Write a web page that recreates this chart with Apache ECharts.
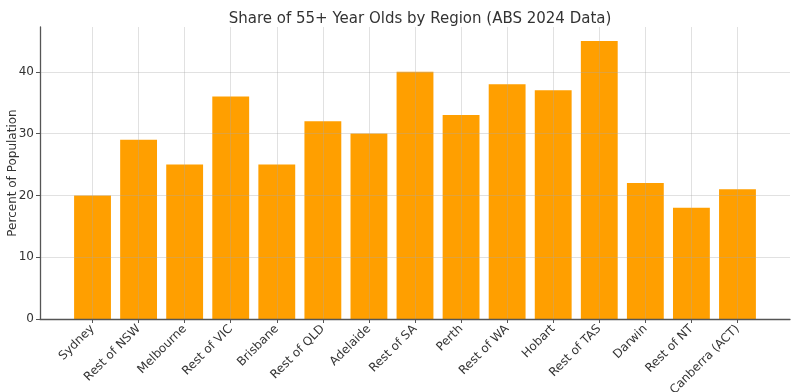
<!DOCTYPE html>
<html>
<head>
<meta charset="utf-8">
<script src="https://cdn.jsdelivr.net/npm/echarts@6/dist/echarts.min.js"></script>
<style>html,body{margin:0;padding:0;background:#fff}#c{width:800px;height:392px}</style>
</head>
<body>
<div id="c"></div>
<script>
const categories = ["Sydney","Rest of NSW","Melbourne","Rest of VIC","Brisbane","Rest of QLD","Adelaide","Rest of SA","Perth","Rest of WA","Hobart","Rest of TAS","Darwin","Rest of NT","Canberra (ACT)"];
const shares = [20,29,25,36,25,32,30,40,33,38,37,45,22,18,21];
const yTicks = [0,10,20,30,40];
const titleText = "Share of 55+ Year Olds by Region (ABS 2024 Data)";
const yName = "Percent of Population";

const idx = categories.map((_, i) => i);
const font = "DejaVu Sans";
const chart = echarts.init(document.getElementById('c'), null, {renderer: 'canvas'});
chart.setOption({
  animation: false,
  textStyle: {fontFamily: font},
  title: {
    text: titleText, left: 415, top: 7, textAlign: 'center',
    textStyle: {fontFamily: font, fontSize: 15, fontWeight: 'normal', color: '#333'}
  },
  grid: {left: 40, right: 10, top: 27, bottom: 73, containLabel: false, outerBoundsMode: 'none'},
  xAxis: {
    type: 'value', min: -1.14, max: 15.14,
    axisLine: {show: true, onZero: false, lineStyle: {color: '#555', width: 1.3}},
    axisTick: {show: true, customValues: idx, length: 4, inside: false, lineStyle: {color: '#555', width: 1}},
    axisLabel: {
      customValues: idx, rotate: 45, margin: 8,
      formatter: v => categories[Math.round(v)] || '',
      fontFamily: font, fontSize: 12, color: '#333'
    },
    splitLine: {show: true, lineStyle: {color: 'rgba(170,170,170,0.35)', width: 1}},
    z: 3
  },
  yAxis: {
    type: 'value', min: 0, max: 47.25,
    name: yName, nameLocation: 'middle', nameGap: 21, nameMoveOverlap: false,
    nameTextStyle: {fontFamily: font, fontSize: 12, color: '#333'},
    axisLine: {show: true, onZero: false, lineStyle: {color: '#555', width: 1.3}},
    axisTick: {show: true, customValues: yTicks, length: 4, inside: false, lineStyle: {color: '#555', width: 1}},
    axisLabel: {customValues: yTicks, margin: 6, fontFamily: font, fontSize: 12, color: '#333'},
    splitLine: {show: true, lineStyle: {color: 'rgba(170,170,170,0.35)', width: 1}},
    z: 3
  },
  series: [{
    type: 'bar',
    data: shares.map((v, i) => [i, v]),
    barWidth: '80%',
    itemStyle: {color: '#FF9F00'},
    z: 2
  }]
});
</script>
</body>
</html>
